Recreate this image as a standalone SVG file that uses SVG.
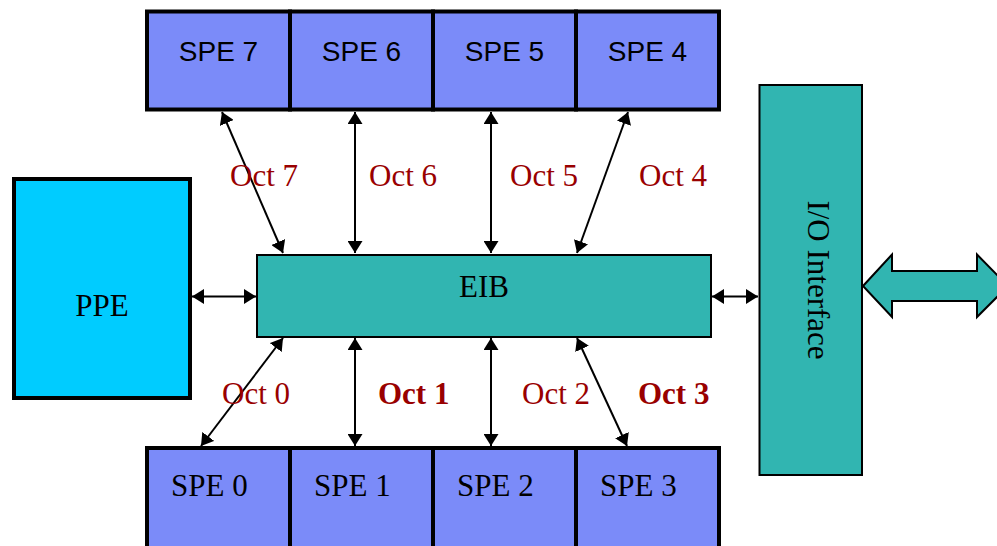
<svg xmlns="http://www.w3.org/2000/svg" width="997" height="546" viewBox="0 0 997 546">
  <style>
    .spe { fill: #7B8BF9; stroke: #000; stroke-width: 4; }
    .eib { fill: #31B5B1; stroke: #000; stroke-width: 2; }
    .ppe { fill: #00CCFF; stroke: #000; stroke-width: 4; }
    .sans { font-family: "Liberation Sans", Arial, sans-serif; font-size: 28px; fill: #000; }
    .serif { font-family: "Liberation Serif", "Times New Roman", serif; font-size: 31px; fill: #000; }
    .oct { font-family: "Liberation Serif", "Times New Roman", serif; font-size: 31px; fill: #990000; }
    .bold { font-weight: bold; }
    .link { stroke: #000; stroke-width: 2; fill: none; marker-start: url(#head); marker-end: url(#head); }
  </style>
  <defs>
    <marker id="head" viewBox="0 0 12 15" refX="12" refY="7.5" markerWidth="12" markerHeight="15" markerUnits="userSpaceOnUse" orient="auto-start-reverse">
      <path d="M0,0 L12,7.5 L0,15 Z" fill="#000"/>
    </marker>
  </defs>

  <!-- Upper SPE row -->
  <g id="spe7"><rect class="spe" x="147" y="11.5" width="143" height="98"/><text class="sans" x="218.5" y="61" text-anchor="middle">SPE 7</text></g>
  <g id="spe6"><rect class="spe" x="290" y="11.5" width="143" height="98"/><text class="sans" x="361.5" y="61" text-anchor="middle">SPE 6</text></g>
  <g id="spe5"><rect class="spe" x="433" y="11.5" width="143" height="98"/><text class="sans" x="504.5" y="61" text-anchor="middle">SPE 5</text></g>
  <g id="spe4"><rect class="spe" x="576" y="11.5" width="143" height="98"/><text class="sans" x="647.5" y="61" text-anchor="middle">SPE 4</text></g>

  <!-- Lower SPE row -->
  <g id="spe0"><rect class="spe" x="147" y="448" width="143" height="110"/><text class="serif" x="171" y="496">SPE 0</text></g>
  <g id="spe1"><rect class="spe" x="290" y="448" width="143" height="110"/><text class="serif" x="314" y="496">SPE 1</text></g>
  <g id="spe2"><rect class="spe" x="433" y="448" width="143" height="110"/><text class="serif" x="457" y="496">SPE 2</text></g>
  <g id="spe3"><rect class="spe" x="576" y="448" width="143" height="110"/><text class="serif" x="600" y="496">SPE 3</text></g>

  <!-- PPE -->
  <g id="ppe"><rect class="ppe" x="14" y="179" width="176" height="219"/><text class="serif" x="102" y="316" text-anchor="middle">PPE</text></g>

  <!-- Element Interconnect Bus -->
  <g id="eib"><rect class="eib" x="257" y="255" width="454" height="82"/><text class="serif" x="484" y="297" text-anchor="middle">EIB</text></g>

  <!-- I/O Interface -->
  <g id="io">
    <rect class="eib" x="759.5" y="85" width="102.5" height="390"/>
    <text class="serif" transform="translate(808,280) rotate(90)" text-anchor="middle">I/O Interface</text>
    <polygon class="eib" points="863,286 892,254.5 892,271 977,271 977,254.5 1008,286 977,317 977,301 892,301 892,317"/>
  </g>

  <!-- Connectors -->
  <g id="connectors">
    <line class="link" x1="222" y1="112" x2="283" y2="253"/>
    <line class="link" x1="355" y1="112" x2="355" y2="253"/>
    <line class="link" x1="491" y1="112" x2="491" y2="253"/>
    <line class="link" x1="628" y1="112" x2="577" y2="253"/>
    <line class="link" x1="283" y1="338" x2="201" y2="446"/>
    <line class="link" x1="355" y1="338" x2="355" y2="446"/>
    <line class="link" x1="491" y1="338" x2="491" y2="446"/>
    <line class="link" x1="577" y1="338" x2="627" y2="446"/>
    <line class="link" x1="192" y1="296.5" x2="256" y2="296.5"/>
    <line class="link" x1="712" y1="296.5" x2="758" y2="296.5"/>
  </g>

  <!-- Octant labels -->
  <g id="labels">
    <text class="oct" x="230" y="186">Oct 7</text>
    <text class="oct" x="369" y="186">Oct 6</text>
    <text class="oct" x="510" y="186">Oct 5</text>
    <text class="oct" x="639" y="186">Oct 4</text>
    <text class="oct" x="222" y="404">Oct 0</text>
    <text class="oct bold" x="378" y="404">Oct 1</text>
    <text class="oct" x="522" y="404">Oct 2</text>
    <text class="oct bold" x="638" y="404">Oct 3</text>
  </g>
</svg>
